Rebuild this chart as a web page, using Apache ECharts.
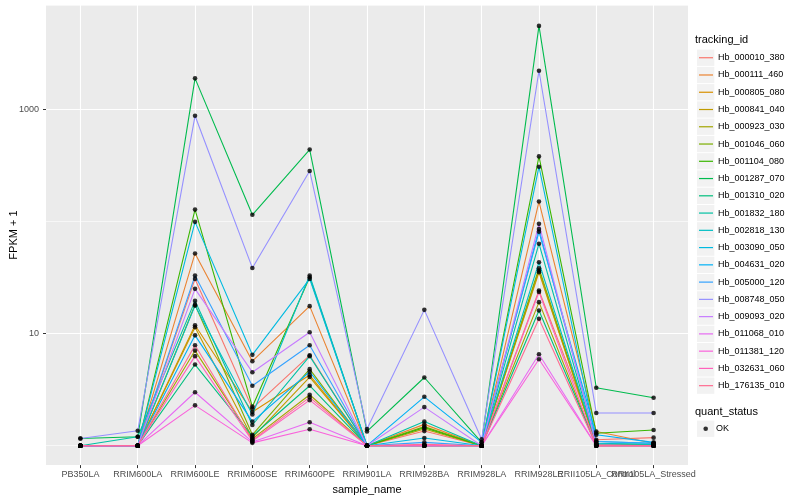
<!DOCTYPE html>
<html><head><meta charset="utf-8">
<script src="https://cdn.jsdelivr.net/npm/echarts@6/dist/echarts.min.js"></script>
<style>html,body{margin:0;padding:0;background:#fff}#c{width:800px;height:500px}</style>
</head><body><div id="c"></div>
<script>
const categories = ['PB350LA','RRIM600LA','RRIM600LE','RRIM600SE','RRIM600PE','RRIM901LA','RRIM928BA','RRIM928LA','RRIM928LE','RRII105LA_Control','RRII105LA_Stressed'];
const trackingIds = ['Hb_000010_380','Hb_000111_460','Hb_000805_080','Hb_000841_040','Hb_000923_030','Hb_001046_060','Hb_001104_080','Hb_001287_070','Hb_001310_020','Hb_001832_180','Hb_002818_130','Hb_003090_050','Hb_004631_020','Hb_005000_120','Hb_008748_050','Hb_009093_020','Hb_011068_010','Hb_011381_120','Hb_032631_060','Hb_176135_010'];
const colors = ['#F8766D','#EA8331','#D89000','#C09B00','#A3A500','#7CAE00','#39B600','#00BB4E','#00BF7D','#00C1A3','#00BFC4','#00BAE0','#00B0F6','#35A2FF','#9590FF','#C77CFF','#E76BF3','#FA62DB','#FF62BC','#FF6C91'];

// FPKM + 1 per sample (order of categories)
const hb_000010_380 = [1, 1, 30.8, 2.15, 6.41, 1, 1.35, 1, 24.3, 1.13, 1.18];
const hb_000111_460 = [1, 1, 52, 5.68, 17.6, 1, 1.55, 1, 151, 1.34, 1.05];
const hb_000805_080 = [1, 1, 11.9, 2.0, 4.27, 1, 1.0, 1, 35.3, 1.02, 1.0];
const hb_000841_040 = [1, 1, 11.4, 1.18, 4.1, 1, 1.41, 1, 36.6, 1.0, 1.0];
const hb_000923_030 = [1, 1, 7.06, 1.15, 2.85, 1, 1.0, 1, 19.1, 1.0, 1.0];
const hb_001046_060 = [1, 1, 18.1, 1.25, 4.82, 1, 1.48, 1, 38.4, 1.03, 1.02];
const hb_001104_080 = [1, 1, 128, 2.23, 31.9, 1, 1.45, 1, 382, 1.29, 1.38];
const hb_001287_070 = [1.16, 1.2, 1900, 115, 440, 1.34, 4.06, 1.07, 5580, 3.29, 2.68];
const hb_001310_020 = [1, 1, 5.3, 1.22, 3.43, 1, 1.0, 1, 16.1, 1.0, 1.0];
const hb_001832_180 = [1, 1.2, 19.6, 1.53, 6.3, 1, 1.64, 1, 63.5, 1.04, 1.03];
const hb_002818_130 = [1, 1, 17.8, 1.9, 33, 1, 1.0, 1, 43.4, 1.05, 1.03];
const hb_003090_050 = [1, 1, 99.5, 6.47, 30.8, 1, 1.17, 1, 309, 1.09, 1.05];
const hb_004631_020 = [1, 1, 9.66, 1.64, 4.57, 1, 2.73, 1.07, 81.2, 1.25, 1.07];
const hb_005000_120 = [1, 1, 33, 3.43, 7.87, 1, 1.07, 1, 85.7, 1.09, 1.05];
const hb_008748_050 = [1.16, 1.36, 880, 38.6, 283, 1.41, 16.3, 1.14, 2220, 1.96, 1.96];
const hb_009093_020 = [1, 1, 25.1, 4.53, 10.3, 1, 2.21, 1, 95.5, 1.02, 1.0];
const hb_011068_010 = [1, 1, 3.0, 1.08, 1.62, 1, 1.0, 1, 6.55, 1.0, 1.0];
const hb_011381_120 = [1, 1, 2.29, 1.06, 1.40, 1, 1.0, 1, 5.91, 1.0, 1.0];
const hb_032631_060 = [1, 1, 6.3, 1.10, 2.55, 1, 1.0, 1, 23.5, 1.0, 1.0];
const hb_176135_010 = [1, 1, 7.87, 1.12, 2.7, 1, 1.03, 1, 13.6, 1.0, 1.0];

const yMajorTicks = [10, 1000];
const quantStatus = ['OK'];

const seriesValues = [hb_000010_380, hb_000111_460, hb_000805_080, hb_000841_040, hb_000923_030, hb_001046_060, hb_001104_080, hb_001287_070, hb_001310_020, hb_001832_180, hb_002818_130, hb_003090_050, hb_004631_020, hb_005000_120, hb_008748_050, hb_009093_020, hb_011068_010, hb_011381_120, hb_032631_060, hb_176135_010];

const font = '"Liberation Sans", Arial, Helvetica, sans-serif';
const catIdx = categories.map((_, i) => i);
const evenIdx = catIdx.filter(i => i % 2 === 0);
const oddIdx = catIdx.filter(i => i % 2 === 1);

const lineSeries = trackingIds.map((id, k) => ({
  name: id, type: 'line', showSymbol: false, symbol: 'none', silent: true, z: 2,
  data: seriesValues[k].map((v, i) => [i, v]),
  lineStyle: { color: colors[k], width: 1.1 },
  itemStyle: { color: colors[k] }
}));
const pointData = [];
seriesValues.forEach(arr => arr.forEach((v, i) => pointData.push([i, v])));
const pointSeries = {
  name: quantStatus[0], type: 'scatter', data: pointData, symbol: 'circle', symbolSize: 4.6,
  itemStyle: { color: '#000' }, z: 3, silent: true
};

const keyTop = 49.1, keyStep = 17.26;
const graphics = [];
trackingIds.forEach((_, k) => graphics.push({
  type: 'rect', z: 1, silent: true,
  shape: { x: 697, y: keyTop + k * keyStep + 0.5, width: 17.3, height: keyStep - 1 },
  style: { fill: '#F2F2F2' }
}));
graphics.push({
  type: 'rect', z: 1, silent: true,
  shape: { x: 697, y: 420.6, width: 17.3, height: keyStep - 1 },
  style: { fill: '#F2F2F2' }
});

const xLabelStyle = { formatter: v => categories[Math.round(v)] || '', fontSize: 9, color: '#4D4D4D', margin: 5, fontFamily: font, showMinLabel: true, showMaxLabel: true, hideOverlap: false };

const chart = echarts.init(document.getElementById('c'));
chart.setOption({
  animation: false,
  backgroundColor: '#fff',
  title: [
    { text: 'tracking_id', left: 695, top: 34, padding: 0, textStyle: { fontSize: 11, fontWeight: 'normal', color: '#000', fontFamily: font } },
    { text: 'quant_status', left: 695, top: 406.5, padding: 0, textStyle: { fontSize: 11, fontWeight: 'normal', color: '#000', fontFamily: font } }
  ],
  graphic: graphics,
  legend: [
    {
      data: trackingIds.map((id, k) => ({ name: id, itemStyle: { color: colors[k] } })),
      orient: 'vertical', left: 699, top: keyTop, padding: 0, itemGap: 0,
      itemWidth: 14, itemHeight: 1.2, icon: 'rect', selectedMode: false, z: 5,
      textStyle: { fontSize: 9, color: '#000', fontFamily: font, lineHeight: keyStep }
    },
    {
      data: quantStatus, orient: 'vertical', left: 703.4, top: 420.1, padding: 0, itemGap: 0,
      itemWidth: 4.6, itemHeight: 4.6, icon: 'circle', selectedMode: false, z: 5,
      textStyle: { fontSize: 9, color: '#000', fontFamily: font, lineHeight: keyStep, padding: [0, 0, 0, 3] }
    }
  ],
  grid: { left: 45, right: 112, top: 5, bottom: 33, show: true, backgroundColor: '#EBEBEB', borderWidth: 0 },
  xAxis: [
    {
      type: 'value', min: -0.6, max: 10.6, position: 'bottom',
      name: 'sample_name', nameLocation: 'middle', nameGap: 15,
      nameTextStyle: { fontSize: 11, color: '#000', fontFamily: font },
      axisLine: { show: false, onZero: false },
      axisTick: { show: true, customValues: catIdx, length: 3, lineStyle: { color: '#333', width: 1 } },
      axisLabel: Object.assign({ customValues: evenIdx }, xLabelStyle),
      splitLine: { show: true, lineStyle: { color: '#fff', width: 1.1 } }
    },
    {
      type: 'value', min: -0.6, max: 10.6, position: 'bottom', offset: 0,
      axisLine: { show: false, onZero: false },
      axisTick: { show: false, customValues: oddIdx },
      axisLabel: Object.assign({ customValues: oddIdx }, xLabelStyle),
      splitLine: { show: false }
    }
  ],
  yAxis: [
    {
      type: 'log', logBase: 10, min: 0.671, max: 8577, position: 'left',
      name: 'FPKM + 1', nameLocation: 'middle', nameGap: 27, nameRotate: 90,
      nameTextStyle: { fontSize: 11, color: '#000', fontFamily: font },
      axisLine: { show: false, onZero: false }, axisTick: { show: false }, axisLabel: { show: false },
      splitLine: { show: true, lineStyle: { color: '#fff', width: 0.6 } }
    },
    {
      type: 'log', logBase: 10, min: 0.671, max: 8577, position: 'left', offset: 0,
      axisLine: { show: false, onZero: false },
      axisTick: { show: true, customValues: yMajorTicks, length: 3, lineStyle: { color: '#333', width: 1 } },
      axisLabel: { customValues: yMajorTicks, formatter: v => String(Math.round(v)), fontSize: 9, color: '#4D4D4D', margin: 7, fontFamily: font },
      splitLine: { show: true, lineStyle: { color: '#fff', width: 1.1 } }
    }
  ],
  series: lineSeries.concat([pointSeries])
});
</script></body></html>
